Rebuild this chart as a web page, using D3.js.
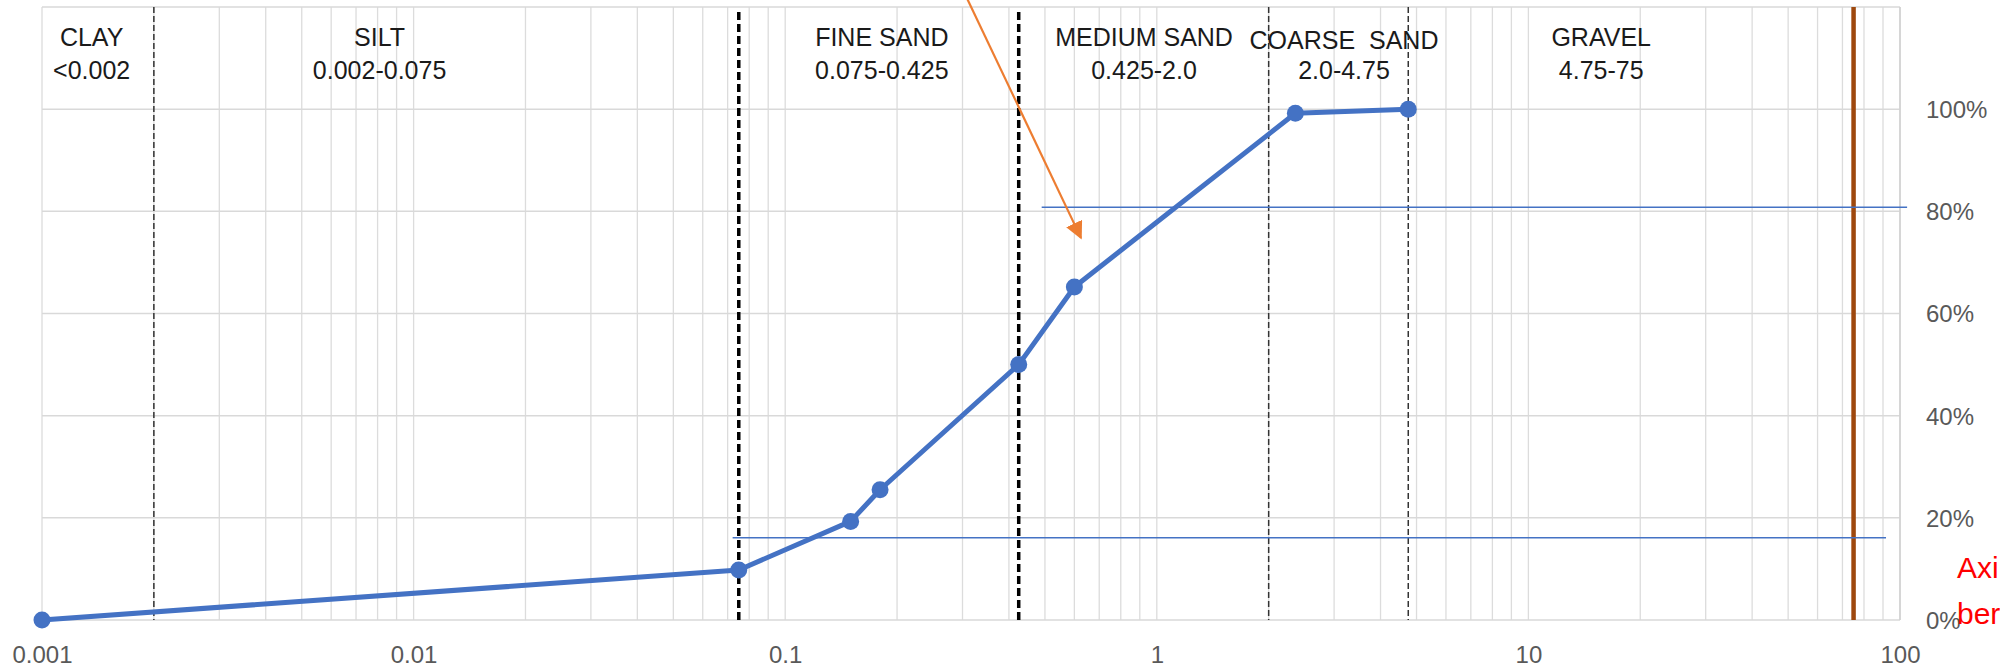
<!DOCTYPE html>
<html>
<head>
<meta charset="utf-8">
<script src="https://cdn.jsdelivr.net/npm/d3@7"></script>
<style>
  html, body { margin: 0; padding: 0; background: #ffffff; }
  svg { display: block; }
  text { font-family: "Liberation Sans", Arial, sans-serif; }
</style>
</head>
<body>
<svg id="chart" width="2000" height="668"></svg>
<script>
// ---------------- data ----------------
const sieveSize = [0.001, 0.075, 0.15, 0.18, 0.425, 0.6, 2.36, 4.75];
const percentPassing = [0.0, 0.098, 0.193, 0.255, 0.50, 0.652, 0.992, 1.0];

const xTicks = [0.001, 0.01, 0.1, 1, 10, 100];
const xTickLabels = ["0.001", "0.01", "0.1", "1", "10", "100"];
const yTicks = [0, 0.2, 0.4, 0.6, 0.8, 1.0];
const yTickLabels = ["0%", "20%", "40%", "60%", "80%", "100%"];

const soilNames = ["CLAY", "SILT", "FINE SAND", "MEDIUM SAND", "COARSE  SAND", "GRAVEL"];
const soilRanges = ["<0.002", "0.002-0.075", "0.075-0.425", "0.425-2.0", "2.0-4.75", "4.75-75"];
const soilLabelAt = [0.00136, 0.0081, 0.182, 0.924, 3.19, 15.7];

const boundarySizes = [0.002, 0.075, 0.425, 2.0, 4.75];
const boundaryHeavy = [false, true, true, false, false];
const gravelLimit = 75;

const refLineY = [0.161, 0.808];
const refLineFrom = [0.0722, 0.49];
const refLineTo = [91.7, 104.5];

const arrowFrom = [0.308, 1.218];
const arrowTo = [0.625, 0.748];

// the note is cropped by the picture's right edge; only its visible part is kept
const noteLines = ["Axi", "ber"];

// ---------------- layout ----------------
const W = 2000, H = 668;
const pL = 42, pR = 1900, pT = 7, pB = 620;

const svg = d3.select("#chart");
svg.append("rect").attr("width", W).attr("height", H).attr("fill", "#ffffff");

const x = d3.scaleLog().domain([0.001, 100]).range([pL, pR]);
const y = d3.scaleLinear().domain([0, 1.2]).range([pB, pT]);

// minor vertical gridlines (1..9 per decade)
const minor = [];
for (let e = -3; e < 2; e++) {
  for (let m = 1; m <= 9; m++) minor.push(m * Math.pow(10, e));
}
minor.push(100);

const grid = svg.append("g");
grid.selectAll("line.v").data(minor).join("line")
  .attr("x1", d => x(d)).attr("x2", d => x(d))
  .attr("y1", pT).attr("y2", pB)
  .attr("stroke", "#dcdcdc").attr("stroke-width", 1.3);

grid.selectAll("line.h").data(yTicks.concat([1.2])).join("line")
  .attr("x1", pL).attr("x2", pR)
  .attr("y1", d => y(d)).attr("y2", d => y(d))
  .attr("stroke", "#d9d9d9").attr("stroke-width", 1.5);

grid.append("line").attr("x1", pR).attr("x2", pR).attr("y1", pT).attr("y2", pB)
  .attr("stroke", "#d0d0d0").attr("stroke-width", 1.5);

// x axis labels
const xAxis = d3.axisBottom(x).tickValues(xTicks).tickFormat((d, i) => xTickLabels[i]).tickSize(0);
const gx = svg.append("g").attr("transform", `translate(0,${pB})`).call(xAxis);
gx.select(".domain").remove();
gx.selectAll("text").attr("font-size", 24).attr("fill", "#595959")
  .attr("font-family", "Liberation Sans, Arial, sans-serif")
  .attr("dy", null).attr("y", 43);

// y axis labels (right)
const yAxis = d3.axisRight(y).tickValues(yTicks).tickFormat((d, i) => yTickLabels[i]).tickSize(0);
const gy = svg.append("g").attr("transform", `translate(${pR},0)`).call(yAxis);
gy.select(".domain").remove();
gy.selectAll("text").attr("font-size", 24).attr("fill", "#595959")
  .attr("font-family", "Liberation Sans, Arial, sans-serif")
  .attr("x", 26).attr("dy", "0.35em");

// boundary dashed lines
svg.append("g").selectAll("line").data(boundarySizes).join("line")
  .attr("x1", d => x(d)).attr("x2", d => x(d))
  .attr("y1", (d, i) => boundaryHeavy[i] ? y(1.19) : pT)
  .attr("y2", pB)
  .attr("stroke", (d, i) => boundaryHeavy[i] ? "#000000" : "#333333")
  .attr("stroke-width", (d, i) => boundaryHeavy[i] ? 3.5 : 1.5)
  .attr("stroke-dasharray", (d, i) => boundaryHeavy[i] ? "8,4" : "6,3");

// gravel limit (brown)
svg.append("line")
  .attr("x1", x(gravelLimit)).attr("x2", x(gravelLimit))
  .attr("y1", pT).attr("y2", pB)
  .attr("stroke", "#9e480e").attr("stroke-width", 4.5);

// reference horizontal lines
svg.append("g").selectAll("line").data(refLineY).join("line")
  .attr("x1", (d, i) => x(refLineFrom[i])).attr("x2", (d, i) => x(refLineTo[i]))
  .attr("y1", d => y(d)).attr("y2", d => y(d))
  .attr("stroke", "#4472c4").attr("stroke-width", 1.6);

// soil labels
const lab = svg.append("g").attr("fill", "#1a1a1a").attr("text-anchor", "middle")
  .attr("font-size", 25);
lab.selectAll("text.n").data(soilNames).join("text")
  .attr("class", "n")
  .attr("x", (d, i) => x(soilLabelAt[i]))
  .attr("y", (d, i) => i === 4 ? 49 : 46)
  .style("white-space", "pre")
  .text(d => d);
lab.selectAll("text.r").data(soilRanges).join("text")
  .attr("class", "r")
  .attr("x", (d, i) => x(soilLabelAt[i]))
  .attr("y", 79)
  .text(d => d);

// series
const pts = sieveSize.map((s, i) => [s, percentPassing[i]]);
svg.append("path").datum(pts)
  .attr("fill", "none").attr("stroke", "#4472c4").attr("stroke-width", 5)
  .attr("stroke-linejoin", "round")
  .attr("d", d3.line().x(d => x(d[0])).y(d => y(d[1])));
svg.append("g").selectAll("circle").data(pts).join("circle")
  .attr("cx", d => x(d[0])).attr("cy", d => y(d[1])).attr("r", 8.5)
  .attr("fill", "#4472c4");

// orange arrow
const defs = svg.append("defs");
defs.append("marker").attr("id", "ah").attr("viewBox", "0 0 10 10")
  .attr("refX", 9).attr("refY", 5).attr("markerWidth", 8).attr("markerHeight", 8)
  .attr("markerUnits", "strokeWidth").attr("orient", "auto")
  .append("path").attr("d", "M0,0 L10,5 L0,10 Z").attr("fill", "#ed7d31");
svg.append("line")
  .attr("x1", x(arrowFrom[0])).attr("y1", y(arrowFrom[1]))
  .attr("x2", x(arrowTo[0])).attr("y2", y(arrowTo[1]))
  .attr("stroke", "#ed7d31").attr("stroke-width", 2.2)
  .attr("marker-end", "url(#ah)");

// red note
svg.append("g").attr("fill", "#ff0000").attr("font-size", 30)
  .selectAll("text").data(noteLines).join("text")
  .attr("x", 1957).attr("y", (d, i) => 578 + i * 46)
  .text(d => d);
</script>
</body>
</html>
